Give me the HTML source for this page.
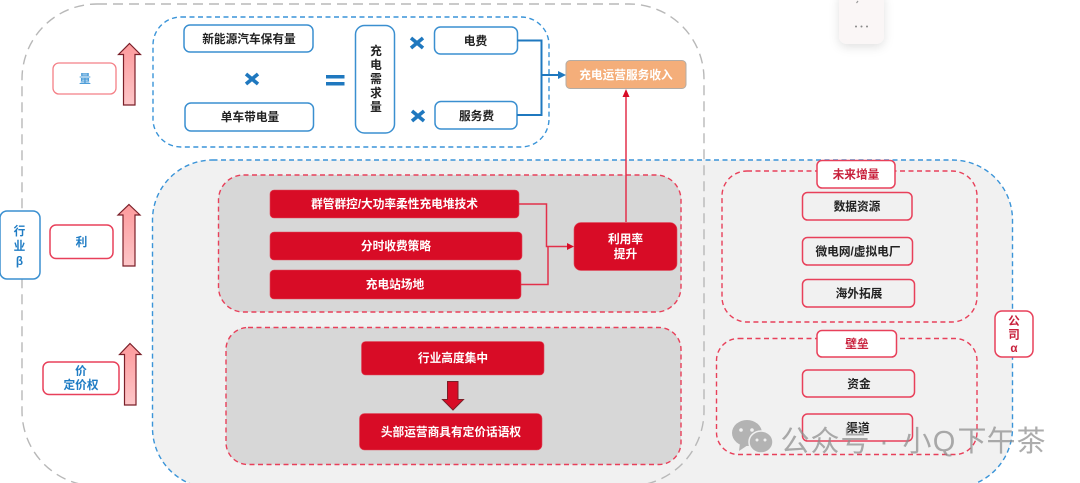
<!DOCTYPE html>
<html><head><meta charset="utf-8"><style>
html,body{margin:0;padding:0;background:#fff;width:1080px;height:483px;overflow:hidden}
svg{display:block;filter:blur(.35px)}
text{font-family:"Liberation Sans","Noto Sans CJK SC",sans-serif;font-size:11.7px;text-anchor:middle}
.k{fill:#222;font-weight:700}
.w{fill:#fff;font-weight:700}
.b{fill:#1f7cc4;font-weight:700}
.r{fill:#c8213c;font-weight:700}
.bx{fill:#fff;stroke:#3a8fd0;stroke-width:1.5}
.rx{fill:none;stroke:#e8405a;stroke-width:1.5}
.rw{fill:#fff;stroke:#e8405a;stroke-width:1.5}
.rf{fill:#d80c26;stroke:#e04a5c;stroke-width:.6}
.dr{stroke:#e8405a;stroke-width:1.4;stroke-dasharray:5 3.5}
.ar{fill:url(#g);stroke:#7a1f28;stroke-width:1.2}
</style></head><body>
<svg width="1080" height="483" viewBox="0 0 1080 483" xmlns="http://www.w3.org/2000/svg">
<defs>
<linearGradient id="g" x1="0" y1="0" x2="0" y2="1"><stop offset="0" stop-color="#fd9a9c"/><stop offset="1" stop-color="#fdc6c8"/></linearGradient>
<filter id="s" x="-50%" y="-50%" width="200%" height="200%"><feDropShadow dx="0" dy="3" stdDeviation="5" flood-color="#000" flood-opacity=".12"/></filter>
</defs>

<!-- popup fragment -->
<rect x="839" y="-8" width="45" height="52" rx="8" fill="#faf6f6" filter="url(#s)"/>
<path d="M858 1l-1.500 2" stroke="#999" stroke-width="1.200" fill="none"/>
<circle cx="856" cy="26.500" r="1" fill="#888"/><circle cx="861.500" cy="26.500" r="1" fill="#888"/><circle cx="867" cy="26.500" r="1" fill="#888"/>

<!-- large gray region -->
<rect x="152.500" y="160" width="860" height="328" rx="60" fill="#f1f1f1" stroke="#3a94d8" stroke-width="1.400" stroke-dasharray="5 3.500"/>
<!-- outer dashed -->
<rect x="22" y="4" width="682" height="482" rx="75" fill="none" stroke="#b8b8b8" stroke-width="1.400" stroke-dasharray="10 6"/>
<!-- top dashed -->
<rect x="153" y="17" width="396" height="130" rx="28" fill="none" stroke="#3a94d8" stroke-width="1.400" stroke-dasharray="5 3.500"/>

<!-- red dashed groups -->
<rect x="218.500" y="175" width="462.500" height="137" rx="25" fill="#d7d7d7" class="dr"/>
<rect x="226" y="327.500" width="455" height="137" rx="22" fill="#d7d7d7" class="dr"/>
<rect x="722" y="171" width="255" height="151" rx="25" fill="none" class="dr"/>
<rect x="716.500" y="338.500" width="260.500" height="116" rx="22" fill="none" class="dr"/>

<!-- left labels -->
<rect x="0" y="211" width="40" height="68" rx="7" class="bx"/>
<text class="b" x="19.500" y="235">行</text><text class="b" x="19.500" y="250">业</text><text class="b" x="19.500" y="265">β</text>
<rect x="53" y="63" width="63" height="31" rx="6" fill="#fff" stroke="#f47f86" stroke-width="1.300"/>
<text x="85" y="83" fill="#4d9dd8" font-weight="700">量</text>
<rect x="50" y="225" width="63" height="33.500" rx="6" class="rw"/>
<text class="b" x="81.500" y="246">利</text>
<rect x="43" y="362" width="76" height="32.500" rx="6" class="rw"/>
<text class="b" x="81" y="375">价</text><text class="b" x="81" y="389">定价权</text>

<!-- up arrows -->
<path class="ar" d="M129.500 43.500L140.500 54.500H135V105H123.500V54.500H118.500Z"/>
<path class="ar" d="M129 204.500L140 215H135V266H123V215H118Z"/>
<path class="ar" d="M130 343.500L141 354.500H136V405H124.500V354.500H119.500Z"/>

<!-- top boxes -->
<rect x="184" y="25" width="129" height="27" rx="6" class="bx"/><text class="k" x="249" y="43">新能源汽车保有量</text>
<rect x="185" y="103" width="128.500" height="28" rx="6" class="bx"/><text class="k" x="250" y="121">单车带电量</text>
<rect x="355.500" y="25.500" width="39" height="107.500" rx="9" class="bx"/>
<text class="k" x="376" y="55">充</text><text class="k" x="376" y="69">电</text><text class="k" x="376" y="83">需</text><text class="k" x="376" y="97">求</text><text class="k" x="376" y="111">量</text>
<rect x="434.500" y="27" width="83" height="27" rx="6" class="bx"/><text class="k" x="475.500" y="45">电费</text>
<rect x="435" y="101.500" width="82" height="27.500" rx="6" class="bx"/><text class="k" x="476.500" y="120">服务费</text>

<!-- operators -->
<g stroke="#1f78bf" stroke-width="3.600" fill="none">
<path d="M246 74L258 84M258 74L246 84"/>
<path d="M411 38L423 48M423 38L411 48"/>
<path d="M412 111L424 121M424 111L412 121"/>
</g>
<rect x="326" y="75" width="18.500" height="3.500" fill="#1f78bf"/>
<rect x="326" y="82" width="18.500" height="3.500" fill="#1f78bf"/>

<!-- orange -->
<rect x="566" y="60.500" width="120" height="28" rx="4" fill="#f4ae7a" stroke="#b3aca5" stroke-width="1"/>
<text class="w" x="626" y="79">充电运营服务收入</text>

<!-- blue connector -->
<path d="M517.500 40.500H541.500V115H517M541.500 75H559" fill="none" stroke="#1f78bf" stroke-width="2"/>
<path d="M558 71L566 75L558 79Z" fill="#1f78bf"/>

<!-- red boxes -->
<rect x="270" y="190" width="249" height="28" rx="4" class="rf"/><text class="w" x="394.500" y="208">群管群控/大功率柔性充电堆技术</text>
<rect x="270" y="232" width="252" height="28" rx="4" class="rf"/><text class="w" x="396" y="250">分时收费策略</text>
<rect x="270" y="270" width="251" height="29" rx="4" class="rf"/><text class="w" x="395" y="288.500">充电站场地</text>
<rect x="574" y="222.500" width="103" height="48" rx="7" class="rf"/>
<text class="w" x="625.500" y="243">利用率</text><text class="w" x="625.500" y="258">提升</text>
<rect x="361.500" y="341.500" width="182.500" height="33.500" rx="4" class="rf"/><text class="w" x="453" y="362">行业高度集中</text>
<rect x="359.500" y="413.500" width="182.500" height="36.500" rx="5" class="rf"/><text class="w" x="451" y="436">头部运营商具有定价话语权</text>

<!-- red connectors -->
<path d="M519 204H546.500V246.500H568M521 284.500H548V246.500" fill="none" stroke="#e2304a" stroke-width="1.500"/>
<path d="M567 243L574 246.500L567 250Z" fill="#d80c26"/>
<path d="M626 222V95" fill="none" stroke="#e2304a" stroke-width="1.500"/>
<path d="M622.500 97L626 89L629.500 97Z" fill="#d80c26"/>

<!-- down arrow -->
<path d="M447.500 381.500H458V399.500H463.500L453 410L442.500 399.500H447.500Z" fill="#d80c26" stroke="#7a1f28" stroke-width="1"/>

<!-- right boxes -->
<rect x="817" y="160.500" width="78" height="27.500" rx="5" class="rw"/><text class="r" x="856" y="178.500">未来增量</text>
<rect x="802.500" y="192.500" width="109.500" height="27.500" rx="5" fill="none" class="rx"/><text class="k" x="857" y="210.500">数据资源</text>
<rect x="802.500" y="237.500" width="110" height="27.500" rx="5" fill="none" class="rx"/><text class="k" x="858" y="255.500">微电网/虚拟电厂</text>
<rect x="802.500" y="279.500" width="112" height="27.500" rx="5" fill="none" class="rx"/><text class="k" x="859" y="297.500">海外拓展</text>
<rect x="817" y="330.500" width="79.500" height="26.500" rx="5" class="rw"/><text class="r" x="857" y="348">壁垒</text>
<rect x="802.500" y="370" width="112" height="27" rx="5" fill="none" class="rx"/><text class="k" x="859" y="388">资金</text>
<rect x="802.500" y="414" width="110" height="27" rx="5" fill="none" class="rx"/><text class="k" x="858" y="432">渠道</text>
<rect x="995" y="311" width="38" height="46" rx="7" class="rw"/>
<text class="r" x="1014" y="325">公</text><text class="r" x="1014" y="338.500">司</text><text class="r" x="1014" y="352">α</text>

<!-- watermark -->
<g opacity=".85">
<ellipse cx="747" cy="433" rx="15" ry="13" fill="#a9a9a9"/>
<path d="M740 443L739 451L748 445Z" fill="#a9a9a9"/>
<ellipse cx="761" cy="442" rx="12" ry="11" fill="#a9a9a9" stroke="#f1f1f1" stroke-width="1.500"/>
<circle cx="741" cy="430" r="1.800" fill="#f1f1f1"/><circle cx="752" cy="430" r="1.800" fill="#f1f1f1"/>
<circle cx="757" cy="440" r="1.500" fill="#f1f1f1"/><circle cx="765" cy="440" r="1.500" fill="#f1f1f1"/>
</g>
<text y="451" x="795 825 855 884 917 944 972 1001 1031" style="font-size:29px;fill:#8c8c8c;fill-opacity:.72;font-weight:400">公众号·小Q下午茶</text>
</svg>
</body></html>
